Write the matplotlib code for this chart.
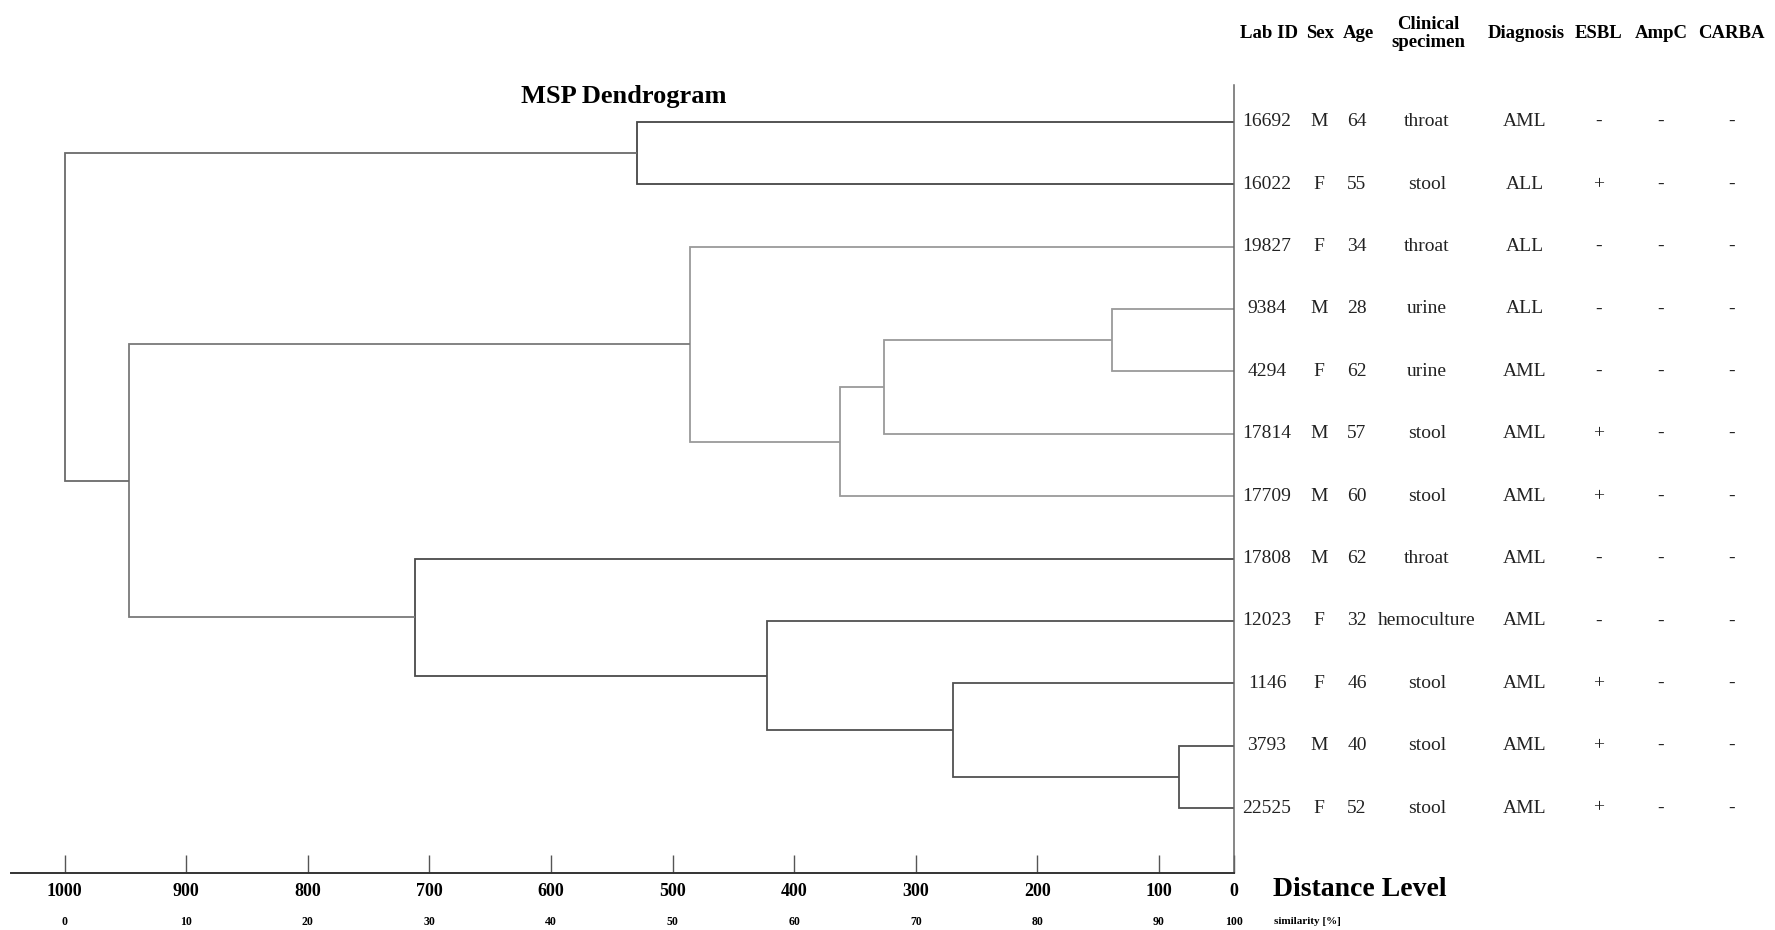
import numpy as np
import matplotlib
matplotlib.use('Agg')
import matplotlib.pyplot as plt
import matplotlib.transforms as mtransforms

plt.rcParams['font.family'] = ['Liberation Serif', 'DejaVu Serif']

# data
lab_ids = ['16692', '16022', '19827', '9384', '4294', '17814', '17709',
           '17808', '12023', '1146', '3793', '22525']
sex = ['M', 'F', 'F', 'M', 'F', 'M', 'M', 'M', 'F', 'F', 'M', 'F']
age = [64, 55, 34, 28, 62, 57, 60, 62, 32, 46, 40, 52]
specimen = ['throat', 'stool', 'throat', 'urine', 'urine', 'stool', 'stool',
            'throat', 'hemoculture', 'stool', 'stool', 'stool']
diagnosis = ['AML', 'ALL', 'ALL', 'ALL', 'AML', 'AML', 'AML',
             'AML', 'AML', 'AML', 'AML', 'AML']
esbl = ['-', '+', '-', '-', '-', '+', '+', '-', '-', '+', '+', '+']
ampc = ['-'] * 12
carba = ['-'] * 12

# merges: (child a, child b, distance level), new nodes numbered from 12
merge_a = [3, 12, 13, 2, 0, 10, 9, 8, 7, 15, 16]
merge_b = [4, 5, 6, 14, 1, 11, 17, 18, 19, 20, 21]
merge_dist = [139, 326, 362, 486, 529, 73, 269, 422, 712, 947, 1000]
merge_color = ['#9a9a9a', '#9a9a9a', '#9a9a9a', '#9a9a9a', '#454545',
               '#505050', '#505050', '#505050', '#4a4a4a', '#7a7a7a', '#6a6a6a']

distance_ticks = [1000, 900, 800, 700, 600, 500, 400, 300, 200, 100, 0]
similarity = [0, 10, 20, 30, 40, 50, 60, 70, 80, 90, 100]

headers = ['Lab ID', 'Sex', 'Age', 'Clinical\nspecimen', 'Diagnosis', 'ESBL', 'AmpC', 'CARBA']

W, H = 1775, 930
fig = plt.figure(figsize=(W / 100, H / 100), dpi=100)
ax = fig.add_axes([11 / W, 1 - 873 / H, (1234 - 11) / W, (873 - 85) / H])


# axis of the original software: equal steps 1000..100, shorter last step 100..0
def fwd(d):
    d = np.asarray(d, dtype=float)
    return -np.where(d >= 100, (1000 - d) * 1.216, 1094.4 + (100 - d) * 0.75)


def inv(g):
    p = -np.asarray(g, dtype=float)
    return np.where(p <= 1094.4, 1000 - p / 1.216, 100 - (p - 1094.4) / 0.75)


ax.set_xscale('function', functions=(fwd, inv))

ypos = {i: float(i) for i in range(len(lab_ids))}
height = {i: 0.0 for i in range(len(lab_ids))}
for k in range(len(merge_a)):
    a, b, h = merge_a[k], merge_b[k], merge_dist[k]
    ax.plot([height[a], h, h, height[b]], [ypos[a], ypos[a], ypos[b], ypos[b]],
            color=merge_color[k], lw=1.3, solid_joinstyle='miter', solid_capstyle='butt')
    node = len(lab_ids) + k
    ypos[node] = (ypos[a] + ypos[b]) / 2
    height[node] = h

ax.set_xlim(1044, 0)
ax.set_ylim(12.04, -0.59)

ax.set_xticks(distance_ticks)
ax.set_xticklabels([str(t) for t in distance_ticks], fontsize=13, fontweight='bold')
ax.tick_params(axis='x', direction='in', length=13, width=1, color='#555555', pad=7)
ax.set_yticks([])
ax.spines['top'].set_visible(False)
ax.spines['left'].set_visible(False)
ax.spines['bottom'].set_color('#333333')
ax.spines['bottom'].set_linewidth(1.4)
ax.spines['right'].set_color('#666666')
ax.spines['right'].set_linewidth(1.1)

trans = mtransforms.blended_transform_factory(ax.transData, ax.transAxes)
for d, s in zip(distance_ticks, similarity):
    ax.text(d, -0.0616, str(s), transform=trans, ha='center', va='center',
            fontsize=8.5, fontweight='bold', clip_on=False)

fig.text(1273 / W, 1 - 889 / H, 'Distance Level', fontsize=20, fontweight='bold',
         ha='left', va='center')
fig.text(1274 / W, 1 - 921.5 / H, 'similarity [%]', fontsize=8, fontweight='bold',
         ha='left', va='center')
fig.text(521 / W, 1 - 96 / H, 'MSP Dendrogram', fontsize=19, fontweight='bold',
         ha='left', va='center')

# table on the right
col_x = [1267, 1319, 1357, 1427, 1525, 1599, 1661, 1732]
header_x = [1269, 1320, 1358, 1428, 1526, 1599, 1661, 1731]
for x, t in zip(header_x, headers):
    fig.text(x / W, 1 - 33.5 / H, t, fontsize=13.5, fontweight='bold',
             ha='center', va='center', linespacing=1.1)

ytrans = mtransforms.blended_transform_factory(fig.transFigure, ax.transData)
columns = [lab_ids, sex, [str(a) for a in age], specimen, diagnosis, esbl, ampc, carba]
for x, col in zip(col_x, columns):
    for i, v in enumerate(col):
        ax.text(x / W, i, v, transform=ytrans, fontsize=14, color='#222222',
                ha='center', va='center', clip_on=False)

fig.savefig('out.png', dpi=100)
